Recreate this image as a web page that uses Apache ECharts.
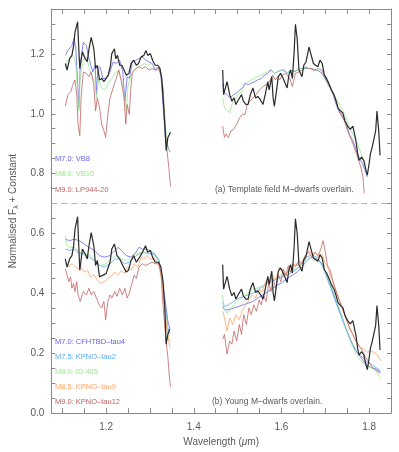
<!DOCTYPE html>
<html>
<head>
<meta charset="utf-8">
<script src="https://cdn.jsdelivr.net/npm/echarts@6/dist/echarts.min.js"></script>
<style>
  html, body { margin: 0; padding: 0; background: #fff; }
  #chart { width: 399px; height: 452px; }
</style>
</head>
<body>
<div id="chart"></div>
<script>
  // tick labels
  var xLabels = [1.2, 1.4, 1.6, 1.8]
  var yLabels = [0.0, 0.2, 0.4, 0.6, 0.8, 1.0, 1.2]

  // (a) target spectrum, J band and H band
  var objA_J = [[1.107,1.168],[1.111,1.146],[1.117,1.184],[1.122,1.195],[1.126,1.228],[1.129,1.272],[1.135,1.307],[1.137,1.240],[1.140,1.151],[1.146,1.207],[1.152,1.184],[1.157,1.174],[1.161,1.217],[1.166,1.255],[1.172,1.217],[1.176,1.151],[1.180,1.162],[1.185,1.113],[1.190,1.118],[1.195,1.107],[1.200,1.118],[1.205,1.129],[1.210,1.162],[1.213,1.201],[1.219,1.217],[1.222,1.184],[1.226,1.195],[1.231,1.162],[1.236,1.162],[1.241,1.146],[1.246,1.129],[1.252,1.135],[1.257,1.168],[1.263,1.179],[1.269,1.162],[1.274,1.168],[1.280,1.190],[1.286,1.195],[1.291,1.211],[1.295,1.195],[1.301,1.201],[1.306,1.179],[1.312,1.162],[1.318,1.162],[1.323,1.151],[1.327,1.118],[1.330,1.053],[1.334,0.965],[1.337,0.877],[1.341,0.921],[1.347,0.938]]
  var objA_H = [[1.466,1.146],[1.468,1.064],[1.476,1.107],[1.482,1.064],[1.487,1.042],[1.492,1.053],[1.496,1.031],[1.502,1.047],[1.509,1.064],[1.513,1.042],[1.519,1.031],[1.524,1.031],[1.529,1.064],[1.535,1.086],[1.541,1.053],[1.546,1.058],[1.552,1.047],[1.558,1.031],[1.563,1.064],[1.569,1.107],[1.572,1.080],[1.578,1.124],[1.581,1.053],[1.584,1.025],[1.589,1.080],[1.593,1.124],[1.598,1.135],[1.604,1.118],[1.608,1.118],[1.613,1.086],[1.617,1.129],[1.621,1.146],[1.625,1.118],[1.629,1.206],[1.632,1.299],[1.636,1.250],[1.640,1.146],[1.643,1.151],[1.647,1.124],[1.651,1.162],[1.656,1.173],[1.660,1.201],[1.663,1.223],[1.668,1.195],[1.673,1.168],[1.678,1.162],[1.683,1.157],[1.688,1.179],[1.693,1.168],[1.698,1.129],[1.703,1.118],[1.708,1.102],[1.714,1.080],[1.720,1.064],[1.725,1.042],[1.729,1.020],[1.735,1.009],[1.740,1.003],[1.745,0.976],[1.751,0.959],[1.757,0.948],[1.763,0.959],[1.766,0.937],[1.770,0.910],[1.774,0.866],[1.777,0.844],[1.783,0.855],[1.788,0.844],[1.793,0.811],[1.796,0.795],[1.800,0.833],[1.803,0.866],[1.807,0.888],[1.811,0.893],[1.815,0.943],[1.818,1.009],[1.822,0.943],[1.825,0.861]]

  // (a) field templates
  var vb8_J = [[1.107,1.195],[1.113,1.212],[1.122,1.228],[1.127,1.252],[1.131,1.217],[1.138,1.020],[1.141,1.162],[1.148,1.239],[1.155,1.228],[1.160,1.190],[1.165,1.162],[1.170,1.140],[1.175,1.162],[1.178,1.064],[1.181,1.151],[1.186,1.157],[1.193,1.118],[1.200,1.118],[1.209,1.140],[1.216,1.173],[1.223,1.168],[1.231,1.179],[1.238,1.140],[1.243,1.042],[1.248,1.124],[1.253,1.118],[1.260,1.173],[1.268,1.179],[1.275,1.184],[1.283,1.190],[1.290,1.179],[1.298,1.173],[1.305,1.168],[1.312,1.146],[1.320,1.157],[1.325,1.129],[1.330,1.031],[1.335,0.921],[1.341,0.888],[1.346,0.872]]
  var vb8_H = [[1.466,1.102],[1.470,1.069],[1.476,1.064],[1.483,1.053],[1.491,1.064],[1.498,1.069],[1.505,1.080],[1.511,1.086],[1.517,1.102],[1.524,1.097],[1.531,1.102],[1.539,1.107],[1.546,1.113],[1.554,1.118],[1.561,1.129],[1.569,1.135],[1.576,1.146],[1.584,1.135],[1.591,1.140],[1.599,1.146],[1.606,1.146],[1.613,1.135],[1.621,1.146],[1.629,1.140],[1.636,1.146],[1.643,1.151],[1.651,1.151],[1.658,1.151],[1.666,1.151],[1.673,1.146],[1.681,1.146],[1.688,1.140],[1.696,1.129],[1.703,1.107],[1.711,1.086],[1.718,1.064],[1.725,1.031],[1.733,1.003],[1.740,0.987],[1.748,0.965],[1.755,0.932],[1.763,0.910],[1.770,0.883],[1.777,0.855],[1.785,0.833],[1.792,0.806],[1.796,0.789]]
  var vb10_J = [[1.107,1.157],[1.113,1.179],[1.122,1.195],[1.127,1.190],[1.131,1.162],[1.138,1.009],[1.141,1.129],[1.148,1.179],[1.155,1.190],[1.163,1.146],[1.170,1.118],[1.175,1.107],[1.178,1.053],[1.183,1.118],[1.190,1.086],[1.198,1.080],[1.205,1.102],[1.213,1.118],[1.220,1.135],[1.228,1.146],[1.235,1.113],[1.243,1.053],[1.246,1.009],[1.250,1.091],[1.257,1.129],[1.265,1.146],[1.272,1.157],[1.280,1.162],[1.287,1.168],[1.295,1.162],[1.302,1.168],[1.310,1.157],[1.318,1.151],[1.325,1.140],[1.330,1.075],[1.335,0.965],[1.340,0.899],[1.346,0.872]]
  var vb10_H = [[1.466,1.053],[1.470,1.020],[1.476,1.014],[1.482,1.003],[1.487,1.031],[1.494,1.047],[1.502,1.064],[1.509,1.075],[1.517,1.097],[1.524,1.107],[1.531,1.113],[1.539,1.118],[1.546,1.124],[1.554,1.129],[1.561,1.135],[1.569,1.140],[1.576,1.149],[1.584,1.135],[1.591,1.140],[1.602,1.146],[1.613,1.135],[1.621,1.146],[1.632,1.143],[1.643,1.151],[1.655,1.153],[1.666,1.151],[1.677,1.148],[1.688,1.143],[1.700,1.124],[1.714,1.075],[1.729,1.042],[1.744,0.998],[1.759,0.943],[1.774,0.899],[1.785,0.855],[1.792,0.817]]
  var lp944_J = [[1.107,1.026],[1.113,1.064],[1.120,1.075],[1.124,1.097],[1.129,1.113],[1.133,1.064],[1.136,0.965],[1.140,0.927],[1.143,1.053],[1.148,1.140],[1.155,1.135],[1.161,1.124],[1.166,1.140],[1.172,1.097],[1.176,1.009],[1.180,1.053],[1.185,1.020],[1.190,0.965],[1.195,0.943],[1.199,0.921],[1.204,0.998],[1.209,1.053],[1.216,1.086],[1.223,1.118],[1.229,1.146],[1.235,1.107],[1.241,1.053],[1.245,0.965],[1.248,1.031],[1.253,0.998],[1.256,1.075],[1.260,1.140],[1.268,1.151],[1.275,1.157],[1.283,1.151],[1.290,1.157],[1.298,1.146],[1.305,1.151],[1.312,1.146],[1.320,1.151],[1.325,1.129],[1.330,1.086],[1.334,0.965],[1.339,0.877],[1.343,0.822],[1.347,0.757]]
  var lp944_H = [[1.466,0.959],[1.470,0.921],[1.474,0.932],[1.479,0.921],[1.485,0.943],[1.491,0.948],[1.498,0.965],[1.505,0.987],[1.511,0.998],[1.517,0.998],[1.522,1.031],[1.528,1.042],[1.535,1.053],[1.543,1.064],[1.550,1.080],[1.558,1.091],[1.565,1.097],[1.572,1.107],[1.580,1.129],[1.586,1.113],[1.591,1.124],[1.596,1.113],[1.602,1.129],[1.610,1.135],[1.619,1.118],[1.625,1.091],[1.632,1.135],[1.640,1.140],[1.647,1.146],[1.654,1.157],[1.662,1.151],[1.669,1.151],[1.677,1.146],[1.684,1.151],[1.692,1.146],[1.699,1.124],[1.707,1.102],[1.714,1.080],[1.722,1.053],[1.729,1.020],[1.737,0.998],[1.744,0.976],[1.751,0.943],[1.759,0.915],[1.766,0.888],[1.774,0.855],[1.781,0.822],[1.786,0.789],[1.789,0.735]]

  // (b) target spectrum, shifted down
  var objB_J = [[1.107,0.515],[1.111,0.488],[1.117,0.515],[1.122,0.526],[1.126,0.559],[1.129,0.614],[1.135,0.656],[1.137,0.581],[1.140,0.477],[1.146,0.548],[1.152,0.532],[1.157,0.515],[1.161,0.559],[1.166,0.603],[1.172,0.559],[1.176,0.493],[1.180,0.510],[1.185,0.455],[1.193,0.461],[1.200,0.466],[1.209,0.504],[1.213,0.548],[1.219,0.565],[1.225,0.526],[1.231,0.515],[1.238,0.493],[1.246,0.471],[1.251,0.477],[1.257,0.510],[1.263,0.526],[1.269,0.504],[1.274,0.515],[1.283,0.537],[1.290,0.559],[1.295,0.537],[1.301,0.543],[1.306,0.521],[1.312,0.504],[1.320,0.504],[1.325,0.488],[1.330,0.439],[1.334,0.351],[1.337,0.230],[1.341,0.263],[1.345,0.280]]
  var objB_H = [[1.466,0.496],[1.468,0.414],[1.476,0.457],[1.482,0.414],[1.487,0.392],[1.492,0.403],[1.496,0.381],[1.502,0.397],[1.509,0.414],[1.513,0.392],[1.519,0.381],[1.524,0.381],[1.529,0.414],[1.535,0.436],[1.541,0.403],[1.546,0.408],[1.552,0.397],[1.558,0.381],[1.563,0.414],[1.569,0.457],[1.572,0.430],[1.578,0.474],[1.581,0.403],[1.584,0.375],[1.589,0.430],[1.593,0.474],[1.598,0.485],[1.604,0.468],[1.608,0.468],[1.613,0.436],[1.617,0.479],[1.621,0.496],[1.625,0.468],[1.629,0.556],[1.632,0.649],[1.636,0.600],[1.640,0.496],[1.643,0.501],[1.647,0.474],[1.651,0.512],[1.656,0.523],[1.660,0.551],[1.663,0.573],[1.668,0.545],[1.673,0.518],[1.678,0.512],[1.683,0.507],[1.688,0.529],[1.693,0.518],[1.698,0.479],[1.703,0.468],[1.708,0.452],[1.714,0.430],[1.720,0.414],[1.725,0.392],[1.729,0.370],[1.735,0.359],[1.740,0.353],[1.745,0.326],[1.751,0.309],[1.757,0.298],[1.763,0.309],[1.766,0.287],[1.770,0.260],[1.774,0.216],[1.777,0.194],[1.783,0.205],[1.788,0.194],[1.793,0.161],[1.796,0.145],[1.800,0.183],[1.803,0.216],[1.807,0.238],[1.811,0.243],[1.815,0.293],[1.818,0.359],[1.822,0.293],[1.825,0.211]]

  // (b) young templates
  var tau4_J = [[1.107,0.581],[1.117,0.576],[1.127,0.581],[1.139,0.576],[1.150,0.565],[1.161,0.554],[1.173,0.543],[1.185,0.526],[1.196,0.521],[1.209,0.526],[1.220,0.543],[1.228,0.554],[1.235,0.543],[1.246,0.526],[1.257,0.521],[1.268,0.537],[1.275,0.554],[1.283,0.548],[1.290,0.548],[1.301,0.543],[1.312,0.526],[1.320,0.510],[1.328,0.450],[1.335,0.373],[1.341,0.307],[1.346,0.280]]
  var tau4_H = [[1.466,0.356],[1.470,0.345],[1.479,0.345],[1.491,0.351],[1.502,0.356],[1.513,0.362],[1.524,0.367],[1.535,0.373],[1.546,0.384],[1.558,0.395],[1.569,0.406],[1.580,0.417],[1.591,0.428],[1.602,0.436],[1.613,0.450],[1.625,0.461],[1.636,0.471],[1.647,0.488],[1.658,0.510],[1.669,0.521],[1.681,0.515],[1.692,0.499],[1.703,0.461],[1.714,0.417],[1.725,0.373],[1.736,0.329],[1.747,0.285],[1.759,0.241],[1.770,0.208],[1.781,0.186],[1.792,0.164],[1.803,0.153],[1.815,0.148],[1.826,0.137]]
  var tau2_J = [[1.107,0.548],[1.117,0.543],[1.127,0.548],[1.139,0.532],[1.150,0.532],[1.161,0.521],[1.173,0.510],[1.185,0.493],[1.196,0.488],[1.209,0.499],[1.220,0.515],[1.231,0.515],[1.242,0.499],[1.253,0.504],[1.264,0.521],[1.275,0.532],[1.286,0.537],[1.298,0.532],[1.309,0.532],[1.320,0.515],[1.328,0.450],[1.335,0.362],[1.341,0.285],[1.346,0.264]]
  var tau2_H = [[1.466,0.373],[1.470,0.356],[1.479,0.362],[1.491,0.373],[1.502,0.384],[1.513,0.389],[1.524,0.395],[1.535,0.401],[1.546,0.412],[1.558,0.423],[1.569,0.433],[1.580,0.439],[1.591,0.450],[1.602,0.455],[1.613,0.461],[1.625,0.471],[1.636,0.482],[1.647,0.499],[1.658,0.521],[1.669,0.528],[1.681,0.521],[1.692,0.499],[1.703,0.455],[1.714,0.412],[1.725,0.367],[1.736,0.324],[1.747,0.280],[1.759,0.236],[1.770,0.208],[1.781,0.192],[1.792,0.175],[1.803,0.164],[1.815,0.153],[1.826,0.143]]
  var id405_J = [[1.107,0.592],[1.111,0.559],[1.117,0.554],[1.127,0.554],[1.139,0.537],[1.153,0.532],[1.164,0.526],[1.175,0.510],[1.187,0.493],[1.200,0.499],[1.209,0.515],[1.223,0.526],[1.235,0.515],[1.246,0.510],[1.257,0.521],[1.268,0.532],[1.280,0.537],[1.290,0.537],[1.301,0.543],[1.312,0.532],[1.320,0.510],[1.328,0.450],[1.335,0.340],[1.341,0.263],[1.346,0.241]]
  var id405_H = [[1.466,0.395],[1.468,0.351],[1.476,0.334],[1.483,0.345],[1.491,0.362],[1.498,0.373],[1.509,0.384],[1.520,0.395],[1.531,0.412],[1.543,0.417],[1.554,0.423],[1.565,0.433],[1.576,0.444],[1.587,0.450],[1.599,0.461],[1.610,0.466],[1.621,0.477],[1.632,0.482],[1.643,0.488],[1.654,0.504],[1.666,0.521],[1.673,0.510],[1.681,0.515],[1.692,0.493],[1.703,0.461],[1.714,0.423],[1.725,0.379],[1.736,0.334],[1.747,0.285],[1.759,0.236],[1.770,0.197],[1.781,0.175],[1.792,0.159],[1.803,0.153],[1.815,0.143],[1.826,0.115]]
  var tau9_J = [[1.107,0.504],[1.113,0.488],[1.122,0.499],[1.127,0.493],[1.136,0.482],[1.143,0.488],[1.150,0.471],[1.158,0.477],[1.164,0.455],[1.173,0.461],[1.180,0.444],[1.187,0.433],[1.196,0.439],[1.204,0.450],[1.210,0.455],[1.220,0.471],[1.228,0.461],[1.235,0.477],[1.242,0.466],[1.250,0.488],[1.257,0.477],[1.264,0.499],[1.272,0.488],[1.280,0.521],[1.286,0.515],[1.294,0.526],[1.301,0.515],[1.312,0.515],[1.320,0.493],[1.328,0.439],[1.335,0.329],[1.341,0.252],[1.346,0.219]]
  var tau9_H = [[1.466,0.340],[1.470,0.318],[1.476,0.274],[1.482,0.318],[1.489,0.296],[1.496,0.329],[1.504,0.312],[1.511,0.345],[1.519,0.362],[1.526,0.378],[1.534,0.395],[1.541,0.384],[1.549,0.412],[1.556,0.406],[1.565,0.444],[1.572,0.428],[1.580,0.461],[1.587,0.444],[1.595,0.488],[1.602,0.477],[1.610,0.461],[1.617,0.482],[1.625,0.488],[1.632,0.499],[1.640,0.493],[1.647,0.504],[1.654,0.526],[1.662,0.543],[1.669,0.532],[1.677,0.537],[1.684,0.521],[1.692,0.532],[1.699,0.504],[1.707,0.482],[1.714,0.450],[1.722,0.417],[1.729,0.390],[1.736,0.362],[1.744,0.329],[1.751,0.301],[1.759,0.274],[1.766,0.252],[1.774,0.230],[1.781,0.219],[1.788,0.214],[1.796,0.203],[1.803,0.208],[1.811,0.203],[1.818,0.197],[1.826,0.175]]
  var tau12_J = [[1.107,0.482],[1.111,0.488],[1.115,0.439],[1.119,0.455],[1.122,0.417],[1.126,0.433],[1.129,0.406],[1.133,0.439],[1.136,0.395],[1.141,0.373],[1.148,0.406],[1.155,0.395],[1.161,0.417],[1.166,0.395],[1.172,0.406],[1.178,0.384],[1.184,0.362],[1.190,0.351],[1.195,0.373],[1.199,0.312],[1.204,0.373],[1.209,0.395],[1.213,0.384],[1.220,0.406],[1.225,0.390],[1.231,0.417],[1.237,0.395],[1.243,0.417],[1.248,0.384],[1.253,0.401],[1.260,0.439],[1.264,0.461],[1.269,0.450],[1.275,0.488],[1.283,0.499],[1.290,0.493],[1.298,0.499],[1.305,0.504],[1.312,0.499],[1.320,0.499],[1.325,0.471],[1.330,0.362],[1.336,0.252],[1.341,0.186],[1.345,0.110],[1.347,0.088]]
  var tau12_H = [[1.466,0.247],[1.470,0.263],[1.476,0.197],[1.482,0.241],[1.487,0.230],[1.492,0.274],[1.498,0.241],[1.504,0.296],[1.509,0.263],[1.514,0.329],[1.520,0.296],[1.526,0.351],[1.531,0.329],[1.537,0.362],[1.543,0.340],[1.549,0.378],[1.554,0.362],[1.559,0.395],[1.565,0.373],[1.571,0.433],[1.576,0.406],[1.581,0.450],[1.587,0.417],[1.593,0.461],[1.599,0.439],[1.604,0.482],[1.610,0.461],[1.616,0.493],[1.621,0.471],[1.626,0.499],[1.632,0.488],[1.640,0.510],[1.647,0.499],[1.654,0.526],[1.662,0.537],[1.669,0.521],[1.677,0.537],[1.684,0.526],[1.690,0.548],[1.695,0.576],[1.699,0.548],[1.705,0.493],[1.710,0.482],[1.718,0.439],[1.725,0.406],[1.733,0.373],[1.740,0.345],[1.748,0.318],[1.755,0.285],[1.763,0.263],[1.770,0.241],[1.777,0.225],[1.785,0.208],[1.792,0.186],[1.800,0.170],[1.807,0.153],[1.815,0.143],[1.822,0.137],[1.826,0.132]]

  var cBlue = '#6464ee'
  var cGreen = '#9be88f'
  var cRed = '#c06464'
  var cSky = '#58aaf8'
  var cOrange = '#ffa468'
  var cBlack = '#2a2a2a'
  var axisGrey = '#8a8a8a'
  var textGrey = '#5a5a5a'
  var font = '"Liberation Sans", Arial, sans-serif'

  // minor ticks every 0.05
  var xTicks = []
  for (var i = 22; i <= 37; i++) xTicks.push(+(i * 0.05).toFixed(2))
  var yTicks = []
  for (var j = 0; j <= 27; j++) yTicks.push(+(j * 0.05).toFixed(2))

  // J and H segments are joined with a gap
  function spec(name, J, H, color, width, z) {
    return {
      name: name,
      type: 'line',
      data: J.concat([[1.40, null]], H),
      showSymbol: false,
      symbol: 'none',
      connectNulls: false,
      z: z || 2,
      lineStyle: { color: color, width: width || 0.8 },
      itemStyle: { color: color },
      animation: false
    }
  }

  var chart = echarts.init(document.getElementById('chart'))

  function xAxisOpt(pos, labels) {
    return {
      type: 'value',
      position: pos,
      min: 1.075,
      max: 1.85,
      name: labels ? 'Wavelength ({mu|μ}m)' : '',
      nameLocation: 'middle',
      nameGap: 19,
      nameTextStyle: { color: textGrey, fontSize: 10, fontFamily: font, rich: { mu: { fontSize: 10, fontStyle: 'italic', color: textGrey } } },
      axisLine: { show: true, onZero: false, lineStyle: { color: axisGrey, width: 1 } },
      axisTick: { show: true, inside: true, length: 5, customValues: xTicks, lineStyle: { color: axisGrey } },
      axisLabel: { show: labels, customValues: xLabels, color: textGrey, fontSize: 10, fontFamily: font, margin: 9,
        formatter: function (v) { return v.toFixed(1) } },
      splitLine: { show: false }
    }
  }
  function yAxisOpt(pos, labels) {
    return {
      type: 'value',
      position: pos,
      min: 0,
      max: 1.35,
      name: labels ? 'Normalised F{sub|λ} + Constant' : '',
      nameLocation: 'middle',
      nameGap: 28,
      nameTextStyle: { color: textGrey, fontSize: 10, fontFamily: font, rich: { sub: { fontSize: 7, color: textGrey, padding: [6, 0, 0, 0] } } },
      axisLine: { show: true, onZero: false, lineStyle: { color: axisGrey, width: 1 } },
      axisTick: { show: true, inside: true, length: 4, customValues: yTicks, lineStyle: { color: axisGrey } },
      axisLabel: { show: labels, customValues: yLabels, color: textGrey, fontSize: 10, fontFamily: font, margin: 7,
        formatter: function (v) { return v.toFixed(1) } },
      splitLine: { show: false }
    }
  }

  function note(text, x, y, color, size) {
    return {
      type: 'text',
      x: x,
      y: y,
      silent: true,
      style: { text: text, fill: color, font: (size || 7.5) + 'px ' + font, verticalAlign: 'middle' }
    }
  }

  var objA = spec('Target (a)', objA_J, objA_H, cBlack, 1.2, 5)
  objA.markLine = {
    silent: true,
    symbol: 'none',
    label: { show: false },
    lineStyle: { color: '#b4b4b4', type: [6, 4], width: 1 },
    data: [{ yAxis: 0.7 }]
  }

  chart.setOption({
    animation: false,
    backgroundColor: '#fff',
    grid: { left: 44, right: 8, top: 9, bottom: 32 },
    xAxis: [xAxisOpt('bottom', true), xAxisOpt('top', false)],
    yAxis: [yAxisOpt('left', true), yAxisOpt('right', false)],
    series: [
      spec('M7.0: VB8', vb8_J, vb8_H, cBlue),
      spec('M8.0: VB10', vb10_J, vb10_H, cGreen),
      spec('M9.0: LP944-20', lp944_J, lp944_H, cRed),
      objA,
      spec('M7.0: CFHTBD-tau4', tau4_J, tau4_H, cBlue),
      spec('M7.5: KPNO-tau2', tau2_J, tau2_H, cSky),
      spec('M8.0: ID 405', id405_J, id405_H, cGreen),
      spec('M8.5: KPNO-tau9', tau9_J, tau9_H, cOrange),
      spec('M9.0: KPNO-tau12', tau12_J, tau12_H, cRed),
      spec('Target (b)', objB_J, objB_H, cBlack, 1.2, 5)
    ],
    graphic: [
      note('M7.0: VB8', 55, 159, cBlue),
      note('M8.0: VB10', 55, 174, cGreen),
      note('M9.0: LP944-20', 55, 190, cRed),
      note('(a) Template field M\u2013dwarfs overlain.', 215, 190, textGrey, 8.5),
      note('M7.0: CFHTBD\u2013tau4', 55, 342, cBlue),
      note('M7.5: KPNO\u2013tau2', 55, 357, cSky),
      note('M8.0: ID 405', 55, 372, cGreen),
      note('M8.5: KPNO\u2013tau9', 55, 387, cOrange),
      note('M9.0: KPNO\u2013tau12', 55, 402, cRed),
      note('(b) Young M\u2013dwarfs overlain.', 212, 402, textGrey, 8.5)
    ]
  })
</script>
</body>
</html>
